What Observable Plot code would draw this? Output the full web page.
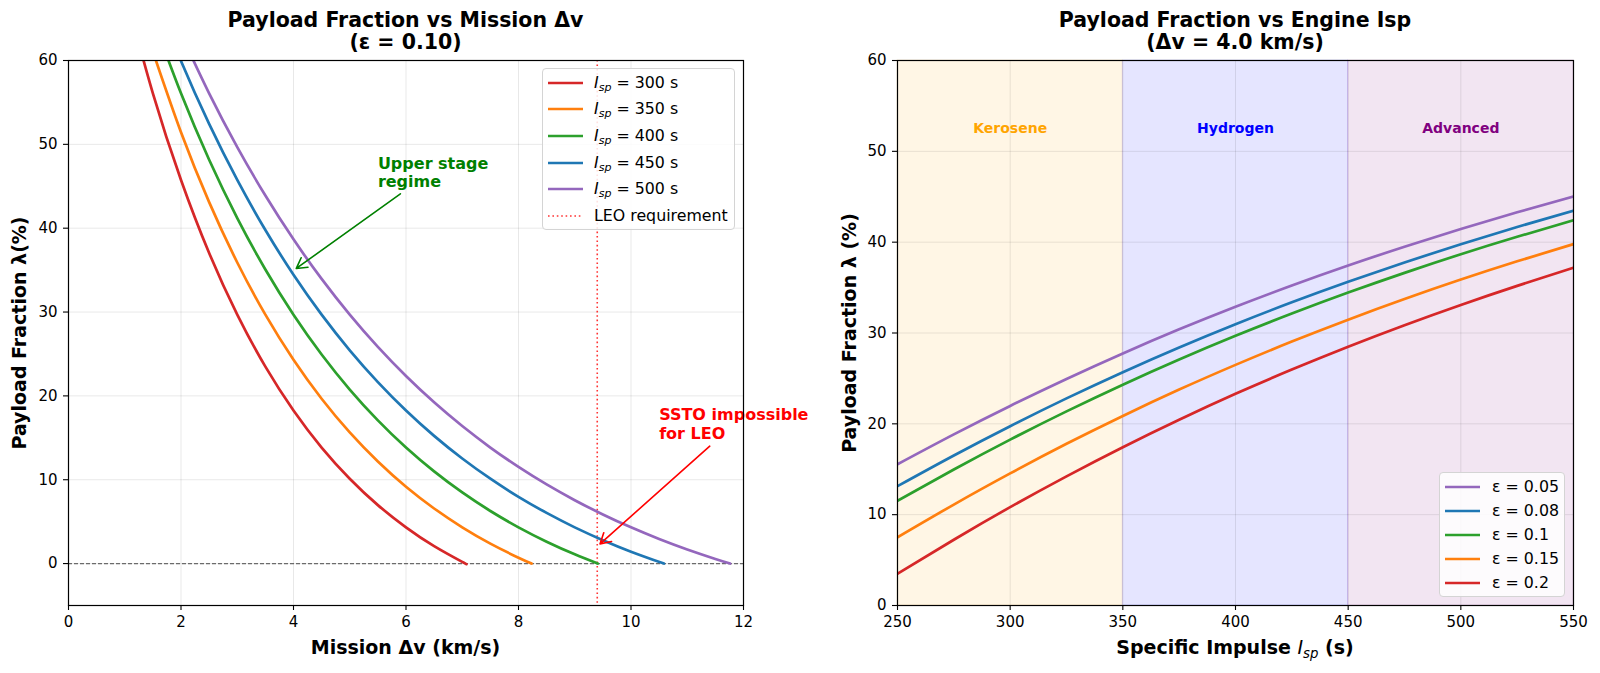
<!DOCTYPE html>
<html>
<head>
<meta charset="utf-8">
<script src="https://cdn.jsdelivr.net/npm/d3@7"></script>
<script src="https://cdn.jsdelivr.net/npm/@observablehq/plot@0.6"></script>
<style>
  body { margin: 0; background: #fff; font-family: "DejaVu Sans", sans-serif; }
  #fig { position: relative; width: 1600px; height: 673px; overflow: hidden; background: #fff; }
  #fig svg.panel { position: absolute; top: 0; }
  .title { position: absolute; font-weight: bold; font-size: 20.5px; line-height: 21.5px;
           text-align: center; white-space: nowrap; transform: translateX(-50%); color: #000; }
  .xlab { position: absolute; font-weight: bold; font-size: 19px; line-height: 19px;
          white-space: nowrap; transform: translateX(-50%); color: #000; }
  .ylab { position: absolute; font-weight: bold; font-size: 19px; line-height: 19px;
          white-space: nowrap; transform: translate(-50%, -50%) rotate(-90deg); color: #000; }
  .math { font-weight: normal; font-style: italic; }
  .legend { position: absolute; background: rgba(255,255,255,0.85); border: 1px solid #d4d4d4;
            border-radius: 4px; box-sizing: border-box; }
  .legend .row { position: absolute; left: 0; height: 20px; line-height: 20px; font-size: 15.8px;
                 white-space: nowrap; color: #000; }
  .legend svg { position: absolute; top: 0; }
  .legend .lbl { position: absolute; top: 0; }
  sub { font-size: 0.7em; vertical-align: -0.3em; line-height: 0; font-style: italic; }
</style>
</head>
<body>
<div id="fig"></div>
<script>
// ---------- Left panel: payload fraction vs mission delta-v (structural ratio 0.10) ----------
const ispValues = [300, 350, 400, 450, 500];
const ispColors = ["#d62728", "#ff7f0e", "#2ca02c", "#1f77b4", "#9467bd"];

const dv_300  = [1.0, 1.5, 2.0, 2.5, 3.0, 3.5, 4.0, 4.5, 5.0, 5.5, 6.0, 6.5, 7.0, 7.057];
const lam_300 = [68.31, 56.08, 45.75, 37.04, 29.69, 23.49, 18.26, 13.84, 10.12, 6.97, 4.32, 2.08, 0.20, 0];

const dv_350  = [1.5, 2.0, 2.5, 3.0, 3.5, 4.0, 4.5, 5.0, 5.5, 6.0, 6.5, 7.0, 7.5, 8.0, 8.233];
const lam_350 = [61.07, 51.44, 43.11, 35.91, 29.69, 24.31, 19.66, 15.64, 12.17, 9.16, 6.57, 4.32, 2.38, 0.70, 0];

const dv_400  = [1.5, 2.0, 2.5, 3.0, 3.5, 4.0, 4.5, 5.0, 5.5, 6.0, 6.5, 7.0, 7.5, 8.0, 8.5, 9.0, 9.409];
const lam_400 = [65.05, 56.08, 48.17, 41.21, 35.08, 29.69, 24.94, 20.76, 17.08, 13.84, 10.99, 8.48, 6.27, 4.32, 2.61, 1.10, 0];

const dv_450  = [1.5, 2.0, 2.5, 3.0, 3.5, 4.0, 4.5, 5.0, 5.5, 6.0, 6.5, 7.0, 7.5, 8.0, 8.5, 9.0, 9.5, 10.0, 10.586];
const lam_450 = [68.31, 59.93, 52.44, 45.75, 39.78, 34.45, 29.69, 25.44, 21.65, 18.26, 15.23, 12.53, 10.12, 7.96, 6.04, 4.32, 2.79, 1.42, 0];

const dv_500  = [2.0, 2.5, 3.0, 3.5, 4.0, 4.5, 5.0, 5.5, 6.0, 6.5, 7.0, 7.5, 8.0, 8.5, 9.0, 9.5, 10.0, 10.5, 11.0, 11.5, 11.762];
const lam_500 = [63.17, 56.08, 49.67, 43.89, 38.67, 33.95, 29.69, 25.84, 22.37, 19.23, 16.40, 13.84, 11.53, 9.44, 7.56, 5.86, 4.32, 2.93, 1.68, 0.55, 0];

const dvLEO = 9.4;
const dvTicks = [0, 2, 4, 6, 8, 10, 12];
const lamTicksLeft = [0, 10, 20, 30, 40, 50, 60];

// ---------- Right panel: payload fraction vs Isp at delta-v = 4.0 km/s ----------
const ispAxis = [250, 275, 300, 325, 350, 375, 400, 425, 450, 475, 500, 525, 550];
const epsValues = [0.05, 0.08, 0.1, 0.15, 0.2];
const epsColors = ["#9467bd", "#1f77b4", "#2ca02c", "#ff7f0e", "#d62728"];
const lam_e05 = [15.55, 18.84, 21.97, 24.94, 27.75, 30.40, 32.89, 35.23, 37.43, 39.50, 41.45, 43.29, 45.03];
const lam_e08 = [13.14, 16.52, 19.74, 22.80, 25.69, 28.41, 30.97, 33.38, 35.64, 37.77, 39.78, 41.67, 43.46];
const lam_e10 = [11.53, 14.97, 18.26, 21.37, 24.31, 27.08, 29.69, 32.14, 34.45, 36.62, 38.67, 40.59, 42.41];
const lam_e15 = [7.51, 11.11, 14.54, 17.80, 20.87, 23.77, 26.49, 29.06, 31.47, 33.74, 35.88, 37.89, 39.79];
const lam_e20 = [3.49, 7.24, 10.83, 14.22, 17.43, 20.45, 23.30, 25.97, 28.49, 30.86, 33.09, 35.19, 37.18];

const propellants = ["Kerosene", "Hydrogen", "Advanced"];
const propLo = [250, 350, 450];
const propHi = [350, 450, 550];
const propColors = ["orange", "blue", "purple"];
const ispTicks = [250, 300, 350, 400, 450, 500, 550];
const lamTicksRight = [0, 10, 20, 30, 40, 50, 60];

// ---------- tables ----------
const dvSeries = [[dv_300, lam_300], [dv_350, lam_350], [dv_400, lam_400], [dv_450, lam_450], [dv_500, lam_500]];
const dvRows = dvSeries.flatMap(([xs, ys], i) => xs.map((x, j) => ({dv: x, lam: ys[j], isp: ispValues[i]})));

const epsSeries = [lam_e05, lam_e08, lam_e10, lam_e15, lam_e20];
const ispRows = epsSeries.flatMap((ys, i) => ispAxis.map((x, j) => ({isp: x, lam: ys[j], eps: epsValues[i]})));

const regions = propellants.map((name, i) => ({name, lo: propLo[i], hi: propHi[i], mid: (propLo[i] + propHi[i]) / 2, color: propColors[i]}));

const baseStyle = {fontFamily: "DejaVu Sans", fontSize: "15px", color: "#000", background: "transparent", overflow: "visible"};
const gridStyle = {stroke: "#000", strokeOpacity: 0.1, strokeWidth: 0.9};
const axisStyle = {tickSize: 5, fontSize: 15, strokeWidth: 1.1, label: null};

const leftPlot = Plot.plot({
  width: 800, height: 673,
  marginLeft: 68, marginRight: 57, marginTop: 60, marginBottom: 68,
  style: baseStyle,
  x: {domain: [0, 12]},
  y: {domain: [-5, 60]},
  color: {domain: ispValues, range: ispColors},
  marks: [
    Plot.gridX(dvTicks, gridStyle),
    Plot.gridY(lamTicksLeft, gridStyle),
    Plot.ruleY([0], {stroke: "#555", strokeOpacity: 0.85, strokeWidth: 1.1, strokeDasharray: "4,2"}),
    Plot.ruleX([dvLEO], {stroke: "red", strokeOpacity: 0.8, strokeWidth: 1.6, strokeDasharray: "1.6,2.8"}),
    Plot.line(dvRows, {x: "dv", y: "lam", z: "isp", stroke: "isp", strokeWidth: 2.7, curve: "natural", clip: true}),
    Plot.arrow([{x1: 5.9, y1: 44.1, x2: 4.05, y2: 35.2}], {x1: "x1", y1: "y1", x2: "x2", y2: "y2",
      stroke: "green", strokeWidth: 1.6, headLength: 11, insetStart: 0, insetEnd: 0}),
    Plot.text([{x: 5.5, y: 46.7, text: "Upper stage\nregime"}], {x: "x", y: "y", text: "text",
      fill: "green", fontWeight: "bold", fontSize: 16, textAnchor: "start", lineAnchor: "middle", lineHeight: 1.15}),
    Plot.arrow([{x1: 11.4, y1: 14.0, x2: 9.45, y2: 2.35}], {x1: "x1", y1: "y1", x2: "x2", y2: "y2",
      stroke: "red", strokeWidth: 1.6, headLength: 11, insetStart: 0, insetEnd: 0}),
    Plot.text([{x: 10.5, y: 16.7, text: "SSTO impossible\nfor LEO"}], {x: "x", y: "y", text: "text",
      fill: "red", fontWeight: "bold", fontSize: 16, textAnchor: "start", lineAnchor: "middle", lineHeight: 1.15}),
    Plot.frame({stroke: "#000", strokeWidth: 1.2}),
    Plot.axisX(dvTicks, {...axisStyle, tickPadding: 6}),
    Plot.axisY(lamTicksLeft, {...axisStyle, tickPadding: 6})
  ]
});

const rightPlot = Plot.plot({
  width: 800, height: 673,
  marginLeft: 97, marginRight: 27, marginTop: 60, marginBottom: 68,
  style: baseStyle,
  x: {domain: [250, 550]},
  y: {domain: [0, 60]},
  color: {domain: epsValues, range: epsColors},
  marks: [
    regions.map(r => Plot.rect([r], {x1: "lo", x2: "hi", fill: r.color, fillOpacity: 0.1,
      stroke: r.color, strokeOpacity: 0.12, strokeWidth: 1})),
    Plot.gridX(ispTicks, gridStyle),
    Plot.gridY(lamTicksRight, gridStyle),
    regions.map(r => Plot.text([r], {x: "mid", y: () => 52.5, text: "name", fill: r.color,
      fontWeight: "bold", fontSize: 14, textAnchor: "middle", lineAnchor: "middle"})),
    Plot.line(ispRows, {x: "isp", y: "lam", z: "eps", stroke: "eps", strokeWidth: 2.7, curve: "natural", clip: true}),
    Plot.frame({stroke: "#000", strokeWidth: 1.2}),
    Plot.axisX(ispTicks, {...axisStyle, tickPadding: 6}),
    Plot.axisY(lamTicksRight, {...axisStyle, tickPadding: 6})
  ]
});

const fig = document.getElementById("fig");
leftPlot.classList.add("panel");
rightPlot.classList.add("panel");
leftPlot.style.left = "0px";
rightPlot.style.left = "800px";
fig.appendChild(leftPlot);
fig.appendChild(rightPlot);

function addDiv(cls, html, css) {
  const d = document.createElement("div");
  d.className = cls;
  d.innerHTML = html;
  Object.assign(d.style, css);
  fig.appendChild(d);
  return d;
}

// titles
addDiv("title", "Payload Fraction vs Mission Δv<br>(ε = 0.10)", {left: "405.5px", top: "10px"});
addDiv("title", "Payload Fraction vs Engine Isp<br>(Δv = 4.0 km/s)", {left: "1235px", top: "10px"});

// axis labels
addDiv("xlab", "Mission Δv (km/s)", {left: "405.5px", top: "638px"});
addDiv("xlab", "Specific Impulse <span class=\"math\">I<sub>sp</sub></span> (s)", {left: "1235px", top: "638px"});
addDiv("ylab", "Payload Fraction λ(%)", {left: "18.5px", top: "332.5px"});
addDiv("ylab", "Payload Fraction λ (%)", {left: "848.5px", top: "332.5px"});

// legends
function legend(box, rows, step) {
  const div = document.createElement("div");
  div.className = "legend";
  Object.assign(div.style, {left: box.x + "px", top: box.y + "px", width: box.w + "px", height: box.h + "px"});
  rows.forEach((r, i) => {
    const cy = box.first + i * step;
    const row = document.createElement("div");
    row.className = "row";
    row.style.top = (cy - 10) + "px";
    row.style.width = box.w + "px";
    const dash = r.dash ? `stroke-dasharray="${r.dash}"` : "";
    const sw = r.dash ? 1.6 : 2.7;
    const op = r.dash ? 0.8 : 1;
    row.innerHTML =
      `<svg width="${box.w}" height="20"><line x1="5" x2="40" y1="10" y2="10" stroke="${r.color}" stroke-width="${sw}" stroke-opacity="${op}" ${dash}/></svg>` +
      `<span class="lbl" style="left:${box.tx}px">${r.label}</span>`;
    div.appendChild(row);
  });
  fig.appendChild(div);
}

legend({x: 542, y: 68, w: 193, h: 162, first: 13.5, tx: 51},
  ispValues.map((v, i) => ({label: `<i>I</i><sub>sp</sub> = ${v} s`, color: ispColors[i]}))
    .concat([{label: "LEO requirement", color: "red", dash: "1.6,2.8"}]), 26.7);

legend({x: 1439, y: 472, w: 126, h: 125, first: 13.5, tx: 52},
  epsValues.map((v, i) => ({label: `ε = ${v}`, color: epsColors[i]})), 24.1);
</script>
</body>
</html>
